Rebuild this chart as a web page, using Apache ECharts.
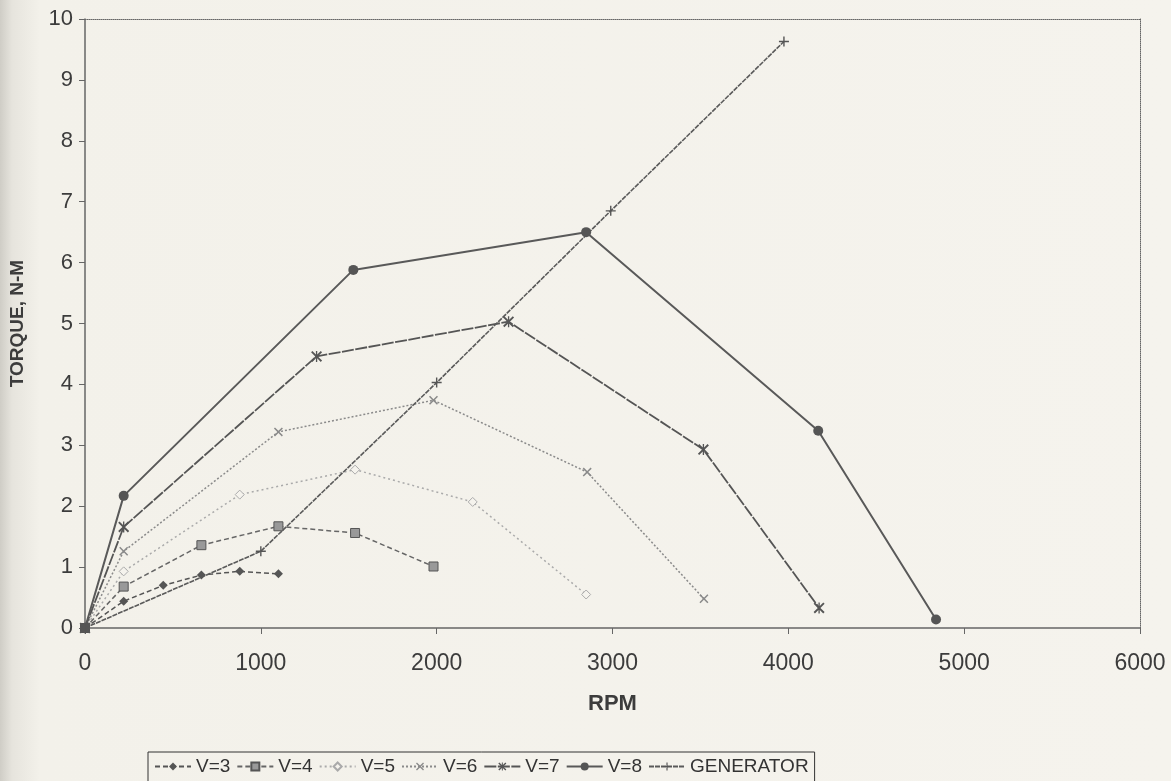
<!DOCTYPE html>
<html>
<head>
<meta charset="utf-8">
<script src="https://cdn.jsdelivr.net/npm/echarts@6/dist/echarts.min.js"></script>
<style>
html,body{margin:0;padding:0;width:1171px;height:781px;overflow:hidden;}
body{background:linear-gradient(to right,#cfcdc6 0px,#e6e4dd 12px,#f3f1ea 40px,#f5f3ed 100%);}
#chart{width:1171px;height:781px;}
</style>
</head>
<body>
<div id="chart"></div>
<script>
// RPM / torque pairs
const seriesNames = ['V=3','V=4','V=5','V=6','V=7','V=8','GENERATOR'];
const v3 = [[0,0],[220,0.44],[445,0.70],[662,0.87],[880,0.93],[1100,0.89]];
const v4 = [[0,0],[220,0.68],[662,1.36],[1100,1.67],[1536,1.56],[1982,1.01]];
const v5 = [[0,0],[220,0.93],[880,2.19],[1536,2.60],[2205,2.07],[2850,0.55]];
const v6 = [[0,0],[220,1.26],[1100,3.22],[1982,3.74],[2856,2.56],[3520,0.48]];
const v7 = [[0,0],[220,1.66],[1317,4.46],[2409,5.03],[3517,2.93],[4175,0.33]];
const v8 = [[0,0],[220,2.17],[1526,5.88],[2850,6.50],[4170,3.24],[4840,0.14]];
const gen = [[0,0],[1000,1.26],[2000,4.03],[2990,6.85],[3975,9.63]];
const xTicks = [0,1000,2000,3000,4000,5000,6000];
const yTicks = [0,1,2,3,4,5,6,7,8,9,10];

const X_SYM = 'path://M0,1.2 L1.2,0 L5,3.8 L8.8,0 L10,1.2 L6.2,5 L10,8.8 L8.8,10 L5,6.2 L1.2,10 L0,8.8 L3.8,5 Z';
const STAR_SYM = 'path://M0,1.2 L1.2,0 L4.4,3.2 L4.4,0 L5.6,0 L5.6,3.2 L8.8,0 L10,1.2 L6.2,5 L10,8.8 L8.8,10 L5.6,6.8 L5.6,10 L4.4,10 L4.4,6.8 L1.2,10 L0,8.8 L3.8,5 Z';
const PLUS_SYM = 'path://M4.3,0 L5.7,0 L5.7,4.3 L10,4.3 L10,5.7 L5.7,5.7 L5.7,10 L4.3,10 L4.3,5.7 L0,5.7 L0,4.3 L4.3,4.3 Z';

const font = '"Liberation Sans", Arial, sans-serif';
const narrow = '"Liberation Sans Narrow", "Arial Narrow", "Liberation Sans", Arial, sans-serif';
const axisColor = '#666';
const textColor = '#3c3c3c';

function mk(name, data, lineColor, lineType, width, symbol, symSize, symColor, border){
  return {
    name: name, type: 'line', data: data,
    symbol: symbol, symbolSize: symSize, showSymbol: true,
    lineStyle: {color: lineColor, width: width, type: lineType},
    itemStyle: {color: symColor, borderColor: border || symColor, borderWidth: border ? 1 : 0},
    emphasis: {disabled: true}, animation: false, z: 3
  };
}

const chart = echarts.init(document.getElementById('chart'), null, {renderer:'canvas'});
chart.setOption({
  backgroundColor: 'transparent',
  animation: false,
  grid: {left: 85, right: 31, top: 19, bottom: 153, containLabel: false},
  xAxis: [{
    type: 'value', min: xTicks[0], max: xTicks[xTicks.length-1], interval: 1000,
    name: 'RPM', nameLocation: 'middle', nameGap: 65,
    nameTextStyle: {fontFamily: font, fontSize: 22, fontWeight: 'bold', color: textColor},
    axisLine: {show: true, lineStyle: {color: axisColor, width: 1.5}},
    axisTick: {show: true, inside: false, length: 6, lineStyle: {color: axisColor}},
    axisLabel: {fontFamily: narrow, fontSize: 23, color: textColor, margin: 24,
      formatter: function(v){ return String(v); }},
    splitLine: {show: false}
  },{
    type: 'value', position: 'top', min: 0, max: 6000,
    axisLine: {show: true, onZero: false, lineStyle: {color: '#666', width: 1, type: 'dotted'}},
    axisTick: {show: false}, axisLabel: {show: false}, splitLine: {show: false}
  }],
  yAxis: [{
    type: 'value', min: yTicks[0], max: yTicks[yTicks.length-1], interval: 1,
    name: 'TORQUE, N-M', nameLocation: 'middle', nameGap: 58,
    nameTextStyle: {fontFamily: font, fontSize: 19, fontWeight: 'bold', color: textColor},
    axisLine: {show: true, lineStyle: {color: axisColor, width: 1.5}},
    axisTick: {show: true, inside: false, length: 6, lineStyle: {color: axisColor}},
    axisLabel: {fontFamily: font, fontSize: 22, color: textColor, margin: 12},
    splitLine: {show: false}
  },{
    type: 'value', position: 'right', min: 0, max: 10,
    axisLine: {show: true, onZero: false, lineStyle: {color: '#666', width: 1, type: 'dotted'}},
    axisTick: {show: false}, axisLabel: {show: false}, splitLine: {show: false}
  }],
  legend: {
    data: seriesNames,
    left: 148, top: 752,
    orient: 'horizontal',
    borderColor: '#333', borderWidth: 1,
    padding: [5, 6, 8, 6],
    itemGap: 6, itemWidth: 36, itemHeight: 10,
    textStyle: {fontFamily: font, fontSize: 19, color: '#333'},
    backgroundColor: 'transparent'
  },
  series: [
    mk('V=3', v3, '#555', [5,3], 1.5, 'diamond', 9, '#555'),
    mk('V=4', v4, '#666', [5,3], 1.5, 'rect', 9, '#999', '#555'),
    mk('V=5', v5, '#aaa', [2,3], 1.5, 'diamond', 9, '#f5f3ed', '#aaa'),
    mk('V=6', v6, '#8a8a8a', [2,2], 1.5, X_SYM, 9, '#8a8a8a'),
    mk('V=7', v7, '#555', [12,1.5], 1.8, STAR_SYM, 11, '#555'),
    mk('V=8', v8, '#595959', 'solid', 2, 'circle', 10, '#555'),
    mk('GENERATOR', gen, '#5a5a5a', [5,1], 1.6, PLUS_SYM, 10, '#555')
  ]
});
</script>
</body>
</html>
